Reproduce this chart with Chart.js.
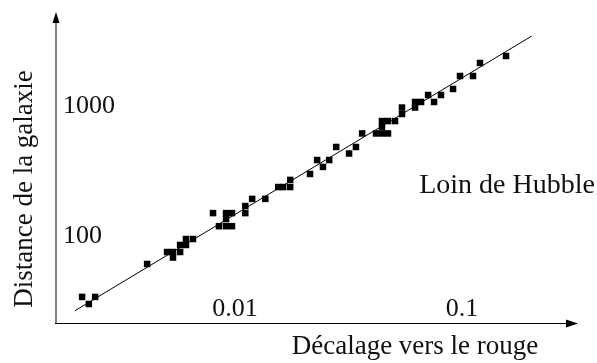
<!DOCTYPE html>
<html>
<head>
<meta charset="utf-8">
<script src="https://cdn.jsdelivr.net/npm/chart.js@4.4.0/dist/chart.umd.min.js"></script>
<style>
  html, body { margin: 0; padding: 0; background: #fff; }
  #wrap { width: 597px; height: 363px; }
</style>
</head>
<body>
<div id="wrap"><canvas id="hubbleChart"></canvas></div>
<script>
// décalage vers le rouge (z) des galaxies
const redshift = [
  0.00212, 0.00227, 0.00242, 0.00410, 0.00502, 0.00533, 0.00533, 0.00573,
  0.00573, 0.00608, 0.00608, 0.00653, 0.00800, 0.00850, 0.00913, 0.00970,
  0.00913, 0.00913, 0.00970, 0.0111, 0.0111, 0.0119, 0.0136, 0.0155,
  0.0163, 0.0175, 0.0175, 0.0214, 0.0230, 0.0244, 0.0260, 0.0279,
  0.0318, 0.0341, 0.0363, 0.0418, 0.0444, 0.0444, 0.0444, 0.0472,
  0.0507, 0.0472, 0.0544, 0.0544, 0.0621, 0.0621, 0.0660, 0.0709,
  0.0753, 0.0808, 0.0913, 0.0980, 0.1118, 0.1200, 0.1563
];
// distance de la galaxie
const distance = [
  34.0, 30.0, 34.0, 60.9, 75.3, 75.3, 68.3, 75.3,
  85.3, 85.3, 94.8, 94.8, 150, 119, 150, 150,
  135, 119, 119, 170, 150, 193, 193, 238,
  238, 270, 238, 300, 384, 340, 384, 484,
  431, 484, 615, 615, 615, 690, 766, 766,
  766, 615, 868, 973, 973, 1074, 1074, 1215,
  1074, 1215, 1352, 1701, 1701, 2142, 2424
];
// droite de Hubble (extrémités)
const fitRedshift = [0.00197, 0.203];
const fitDistance = [26.6, 3455];

const xTickValues = [0.01, 0.1];
const xTickLabels = ['0.01', '0.1'];
const yTickValues = [100, 1000];
const yTickLabels = ['100', '1000'];

const xTitle = 'Décalage vers le rouge';
const yTitle = 'Distance de la galaxie';
const noteText = 'Loin de Hubble';

const FONT = '"Liberation Serif", "DejaVu Serif", serif';

// axes avec flèches + textes
const axesPlugin = {
  id: 'axesPlugin',
  afterDraw(chart) {
    const { ctx, chartArea: a, scales } = chart;
    ctx.save();

    // axe vertical (gris)
    ctx.strokeStyle = '#808080';
    ctx.lineWidth = 2;
    ctx.beginPath();
    ctx.moveTo(a.left, a.bottom + 0.5);
    ctx.lineTo(a.left, a.top + 9);
    ctx.stroke();
    ctx.fillStyle = '#000';
    ctx.beginPath();
    ctx.moveTo(a.left, a.top);
    ctx.lineTo(a.left - 3.5, a.top + 11);
    ctx.lineTo(a.left + 3.5, a.top + 11);
    ctx.closePath();
    ctx.fill();

    // axe horizontal (noir)
    ctx.strokeStyle = '#000';
    ctx.lineWidth = 1.2;
    ctx.beginPath();
    ctx.moveTo(a.left - 1, a.bottom + 0.5);
    ctx.lineTo(a.right - 10, a.bottom + 0.5);
    ctx.stroke();
    ctx.beginPath();
    ctx.moveTo(a.right, a.bottom + 0.5);
    ctx.lineTo(a.right - 12, a.bottom - 3.5);
    ctx.lineTo(a.right - 12, a.bottom + 4.5);
    ctx.closePath();
    ctx.fill();

    // graduations
    ctx.fillStyle = '#111';
    ctx.font = '26px ' + FONT;
    ctx.textAlign = 'center';
    ctx.textBaseline = 'middle';
    xTickValues.forEach((v, i) => {
      ctx.fillText(xTickLabels[i], scales.x.getPixelForValue(v), a.bottom - 14);
    });
    ctx.textAlign = 'left';
    yTickValues.forEach((v, i) => {
      ctx.fillText(yTickLabels[i], a.left + 7, scales.y.getPixelForValue(v));
    });

    // titres
    ctx.font = '27px ' + FONT;
    ctx.textAlign = 'center';
    ctx.fillText(xTitle, 415, 347);
    ctx.font = '28px ' + FONT;
    ctx.fillText(noteText, 507, 186);
    ctx.font = '27px ' + FONT;
    ctx.translate(25, 189);
    ctx.rotate(-Math.PI / 2);
    ctx.fillText(yTitle, 0, 0);

    ctx.restore();
  }
};

const scatterData = redshift.map((z, i) => ({ x: z, y: distance[i] }));
const fitData = fitRedshift.map((z, i) => ({ x: z, y: fitDistance[i] }));

new Chart(document.getElementById('hubbleChart'), {
  type: 'scatter',
  data: {
    datasets: [
      {
        label: 'galaxies',
        data: scatterData,
        pointStyle: 'rect',
        pointRadius: 4.6,
        pointBorderWidth: 0,
        backgroundColor: '#000',
        borderColor: '#000',
        order: 1
      },
      {
        label: 'loi',
        type: 'line',
        data: fitData,
        borderColor: '#000',
        borderWidth: 1,
        pointRadius: 0,
        fill: false,
        order: 2
      }
    ]
  },
  options: {
    responsive: true,
    maintainAspectRatio: false,
    animation: false,
    layout: {
      padding: { left: 56, top: 12, right: 19, bottom: 40 }
    },
    plugins: {
      legend: { display: false },
      tooltip: { enabled: false }
    },
    scales: {
      x: { type: 'logarithmic', min: 0.001627, max: 0.3243, display: false },
      y: { type: 'logarithmic', min: 21.42, max: 5285, display: false }
    }
  },
  plugins: [axesPlugin]
});
</script>
</body>
</html>
